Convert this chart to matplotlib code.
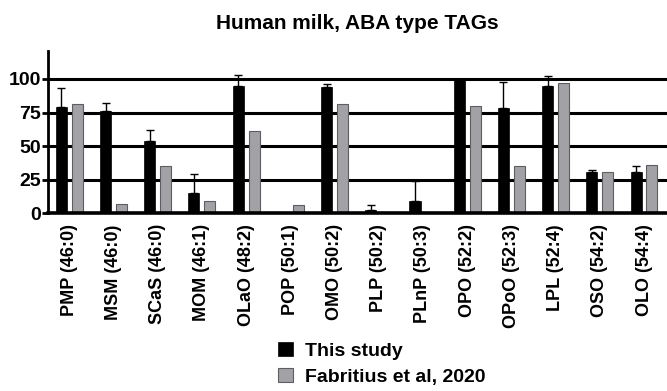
import numpy as np
import matplotlib.pyplot as plt

plt.rcParams['font.family'] = ['Liberation Sans', 'DejaVu Sans']
plt.rcParams['font.weight'] = 'bold'

tags = ['PMP (46:0)', 'MSM (46:0)', 'SCaS (46:0)', 'MOM (46:1)', 'OLaO (48:2)',
        'POP (50:1)', 'OMO (50:2)', 'PLP (50:2)', 'PLnP (50:3)', 'OPO (52:2)',
        'OPoO (52:3)', 'LPL (52:4)', 'OSO (54:2)', 'OLO (54:4)']
este_estudo = [79, 76, 54, 15, 95, 0, 94, 2, 9, 100, 78, 95, 31, 31]
este_estudo_sd = [14, 6, 8, 14, 8, 0, 2, 4, 15, 0, 20, 7, 1, 4]
fabritius = [81, 7, 35, 9, 61, 6, 81, 0, 0, 80, 35, 97, 31, 36]

fig = plt.figure(figsize=(6.67, 3.91), dpi=100)
ax = fig.add_axes([0.072, 0.455, 0.928, 0.415])

x = np.arange(len(tags))
ax.bar(x + 0.30, este_estudo, width=0.25, color='black', edgecolor='black',
       linewidth=0.5, label='This study', zorder=3)
ax.errorbar(x + 0.30, este_estudo, yerr=[np.zeros(len(x)), este_estudo_sd],
            fmt='none', ecolor='black', elinewidth=1, capsize=3, capthick=1, zorder=4)
ax.bar(x + 0.66, fabritius, width=0.25, color='#a2a2a6', edgecolor='#5e5e62',
       linewidth=0.8, label='Fabritius et al, 2020', zorder=3)

for yv in [25, 50, 75, 100]:
    ax.axhline(yv, color='black', lw=2.2, zorder=1)

ax.set_xlim(0, 14)
ax.set_ylim(0, 121)
ax.set_yticks([0, 25, 50, 75, 100])
ax.tick_params(axis='y', labelsize=14, width=2, length=4, pad=1)
ax.set_xticks(x + 0.48)
ax.set_xticklabels(tags, rotation=90, fontsize=13)
ax.tick_params(axis='x', length=0, pad=8)
for s in ['top', 'right']:
    ax.spines[s].set_visible(False)
ax.spines['left'].set_linewidth(2)
ax.spines['bottom'].set_linewidth(2.6)
ax.spines['bottom'].set_zorder(5)

fig.text(0.536, 0.925, 'Human milk, ABA type TAGs', ha='center', va='baseline',
         fontsize=15, fontweight='bold')

fig.legend(loc='upper left', bbox_to_anchor=(0.405, 0.145), frameon=False,
           fontsize=14, handlelength=0.8, handleheight=0.75, labelspacing=0.4,
           handletextpad=0.6, borderaxespad=0)

fig.savefig('out.png', dpi=100)
